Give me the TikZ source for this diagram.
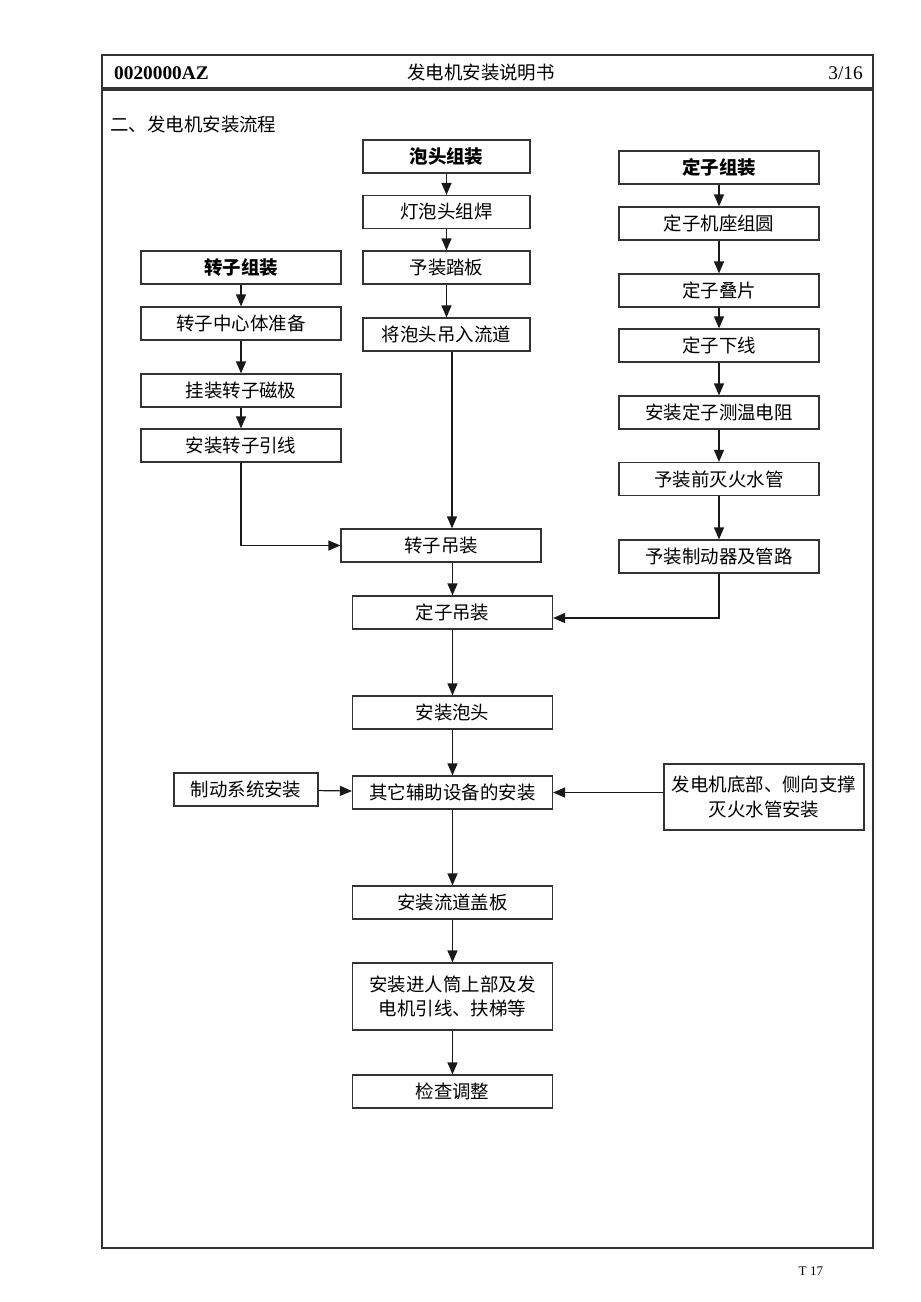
\documentclass[tikz,border=0pt]{standalone}
\usepackage{fontspec}
\setmainfont{Liberation Serif}
\newfontfamily\cjk{Noto Sans CJK SC}
\usetikzlibrary{positioning,calc,arrows.meta}

\tikzset{
  stepbox/.style={draw=black!80, line width=0.7pt, minimum width=4cm, minimum height=0.66cm,
    inner sep=1pt, align=center, font=\cjk\fontsize{10.5}{14}\selectfont},
  titlebox/.style={stepbox, font=\cjk\bfseries\fontsize{10.5}{14}\selectfont},
  arr/.style={-{Triangle[length=2.4mm,width=2mm]}, line width=0.7pt, black!90},
}

\begin{document}
\begin{tikzpicture}[x=0.02cm, y=-0.02cm]
    \useasboundingbox (0,0) rectangle (920,1302);

    % page frame
    \draw [line width=0.8pt, black!80] (102,55) rectangle (873,88); % header
    \draw [line width=0.8pt, black!80] (102,90) rectangle (873,1248); % body
    \node [anchor=west, font=\bfseries\fontsize{11}{13}\selectfont] (code) at (108,73) {0020000AZ};
    \node [font=\cjk\fontsize{10.5}{13}\selectfont] (title) at (481,73) {发电机安装说明书};
    \node [anchor=east, font=\fontsize{11}{13}\selectfont] (page) at (869,73) {3/16};
    \node [anchor=west, font=\cjk\fontsize{10.5}{13}\selectfont, inner sep=0pt] (sect) at (110,124) {二、发电机安装流程};
    \node [font=\fontsize{7.5}{9}\selectfont] (foot) at (811,1271) {T 17};

    % bulb head column
    \node [titlebox, minimum width=3.34cm] (bulb) at (446.5,156.5) {泡头组装};
    \node [stepbox, minimum width=3.34cm] (bw) at (446.5,212) {灯泡头组焊};
    \node [stepbox, minimum width=3.34cm] (bp) at (446.5,267.5) {予装踏板};
    \node [stepbox, minimum width=3.34cm] (bl) at (446.5,334.5) {将泡头吊入流道};

    % rotor column
    \node [titlebox] (rotor) at (241,267.5) {转子组装};
    \node [stepbox] (rc) at (241,323.5) {转子中心体准备};
    \node [stepbox] (rm) at (241,390.5) {挂装转子磁极};
    \node [stepbox] (rl) at (241,445.5) {安装转子引线};

    % stator column
    \node [titlebox] (stator) at (719,167.5) {定子组装};
    \node [stepbox] (sf) at (719,223.5) {定子机座组圆};
    \node [stepbox] (sk) at (719,290.5) {定子叠片};
    \node [stepbox] (sw) at (719,345.5) {定子下线};
    \node [stepbox] (st) at (719,412.5) {安装定子测温电阻};
    \node [stepbox] (sp) at (719,479) {予装前灭火水管};
    \node [stepbox] (sb) at (719,556.5) {予装制动器及管路};

    % main line
    \node [stepbox] (rh) at (441,545.5) {转子吊装};
    \node [stepbox] (sh) at (452.5,612.5) {定子吊装};
    \node [stepbox] (ib) at (452.5,712.5) {安装泡头};
    \node [stepbox] (aux) at (452.5,792.5) {其它辅助设备的安装};
    \node [stepbox, minimum width=2.88cm] (brake) at (246,789.5) {制动系统安装};
    \node [stepbox, minimum height=1.32cm] (supp) at (764,797) {发电机底部、侧向支撑\\灭火水管安装};
    \node [stepbox] (cover) at (452.5,902.5) {安装流道盖板};
    \node [stepbox, minimum height=1.34cm] (man) at (452.5,996.5) {安装进人筒上部及发\\电机引线、扶梯等};
    \node [stepbox] (check) at (452.5,1091.5) {检查调整};

    % arrows
    \draw [arr] (bulb) -- (bw);
    \draw [arr] (bw) -- (bp);
    \draw [arr] (bp) -- (bl);
    \draw [arr] ([xshift=0.11cm]bl.south) -- ([xshift=0.11cm]bl.south |- rh.north);

    \draw [arr] (rotor) -- (rc);
    \draw [arr] (rc) -- (rm);
    \draw [arr] (rm) -- (rl);
    \draw [arr] (rl.south) |- (rh.west);

    \draw [arr] (stator) -- (sf);
    \draw [arr] (sf) -- (sk);
    \draw [arr] (sk) -- (sw);
    \draw [arr] (sw) -- (st);
    \draw [arr] (st) -- (sp);
    \draw [arr] (sp) -- (sb);
    \draw [arr] (sb.south) |- ([yshift=-0.11cm]sh.east);

    \draw [arr] (rh.south -| sh.north) -- (sh.north);
    \draw [arr] (sh) -- (ib);
    \draw [arr] (ib) -- (aux);
    \draw [arr] (brake) -- (aux);
    \draw [arr] (supp.west |- aux.east) -- (aux.east);
    \draw [arr] (aux) -- (cover);
    \draw [arr] (cover) -- (man);
    \draw [arr] (man) -- (check);
\end{tikzpicture}
\end{document}
